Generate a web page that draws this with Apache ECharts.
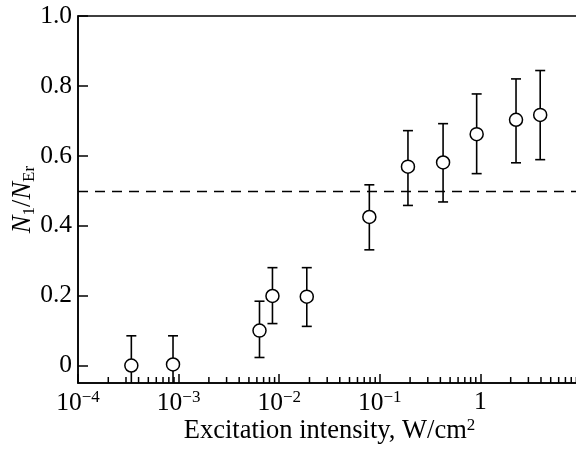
<!DOCTYPE html>
<html>
<head>
<meta charset="utf-8">
<script src="https://cdn.jsdelivr.net/npm/echarts@6/dist/echarts.min.js"></script>
<style>html,body{margin:0;padding:0;background:#fff;}#c{width:576px;height:449px;}</style>
</head>
<body>
<div id="c"></div>
<script>
// Data
const xVals = [3.39e-4, 8.8e-4, 6.37e-3, 8.57e-3, 0.0188, 0.0787, 0.1905, 0.4256, 0.918, 2.26, 3.93];
const yVals = [0, 0.003, 0.100, 0.199, 0.197, 0.425, 0.569, 0.581, 0.662, 0.703, 0.717];
const yHi   = [0.085, 0.085, 0.184, 0.280, 0.280, 0.517, 0.672, 0.692, 0.777, 0.820, 0.844];
const yLo   = [-0.085, -0.079, 0.023, 0.120, 0.112, 0.331, 0.458, 0.468, 0.549, 0.580, 0.589];
const dashedLevel = 0.503;
const yTicks = [0, 0.2, 0.4, 0.6, 0.8, 1.0];
const decades = [-4, -3, -2, -1, 0];
const minorMultipliers = [2, 3, 4, 5, 6, 7, 8, 9];

const minorTicks = [];
decades.forEach(d => minorMultipliers.forEach(m => minorTicks.push([m * Math.pow(10, d)])));

const FONT = "'Liberation Serif', 'Times New Roman', serif";
const FS = 25.5;
const NFS = 26.5;
const SFS = 17;
const chart = echarts.init(document.getElementById('c'), null, {renderer: 'canvas'});

chart.setOption({
  animation: false,
  backgroundColor: '#fff',
  textStyle: {fontFamily: FONT, color: '#000'},
  grid: {left: 78, top: 16, width: 503, height: 367, outerBoundsMode: 'none', containLabel: false,
         show: true, borderColor: '#000', borderWidth: 1.5, backgroundColor: 'transparent'},
  xAxis: {
    type: 'log', logBase: 10, min: 1e-4, max: 10,
    position: 'bottom',
    axisLine: {onZero: false, lineStyle: {color: '#000', width: 1.5}},
    axisTick: {inside: true, length: 9, lineStyle: {color: '#000', width: 1.5}},
    splitLine: {show: false},
    axisLabel: {
      showMaxLabel: false,
      margin: 6,
      color: '#000',
      fontFamily: FONT,
      fontSize: FS,
      formatter: function (v) {
        const e = Math.round(Math.log10(v));
        if (e === 0) return '{b|1}';
        return '{b|10}{s|\u2212' + Math.abs(e) + '}';
      },
      rich: {
        b: {fontSize: FS, fontFamily: FONT, color: '#000'},
        s: {fontSize: SFS, fontFamily: FONT, color: '#000', verticalAlign: 'bottom', padding: [0, 0, 11, 0]}
      }
    },
    name: '{t|Excitation intensity, W/cm}{s|2}',
    nameLocation: 'middle',
    nameMoveOverlap: false,
    nameGap: 34,
    nameTextStyle: {
      rich: {
        t: {fontSize: NFS, fontFamily: FONT, color: '#000'},
        s: {fontSize: SFS, fontFamily: FONT, color: '#000', verticalAlign: 'bottom', padding: [0, 0, 11, 0]}
      }
    }
  },
  yAxis: {
    type: 'value', min: -0.05, max: 1.0,
    axisLine: {onZero: false, lineStyle: {color: '#000', width: 1.5}},
    axisTick: {inside: true, length: 10, customValues: yTicks, lineStyle: {color: '#000', width: 1.5}},
    splitLine: {show: false},
    axisLabel: {
      customValues: yTicks,
      margin: 6,
      color: '#000',
      fontFamily: FONT,
      fontSize: FS,
      formatter: v => (Math.abs(v) < 1e-9 ? '0' : v.toFixed(1))
    },
    name: '{i|N}{sb|1}{n|/}{i|N}{sb|Er}',
    nameLocation: 'middle',
    nameMoveOverlap: false,
    nameGap: 40,
    nameRotate: 90,
    nameTextStyle: {
      rich: {
        i: {fontSize: NFS, fontFamily: FONT, fontStyle: 'italic', color: '#000'},
        n: {fontSize: NFS, fontFamily: FONT, color: '#000'},
        sb: {fontSize: SFS, fontFamily: FONT, color: '#000', verticalAlign: 'top', padding: [12, 0, 0, 0]}
      }
    }
  },
  series: [
    {
      type: 'custom',
      clip: true,
      silent: true,
      z: 2,
      data: minorTicks,
      renderItem: function (params, api) {
        const p = api.coord([api.value(0), -0.05]);
        return {type: 'line', shape: {x1: p[0], y1: p[1], x2: p[0], y2: p[1] - 6}, style: {stroke: '#000', lineWidth: 1.5}};
      }
    },
    {
      type: 'custom',
      clip: true,
      silent: true,
      z: 3,
      data: xVals.map((x, i) => [x, yLo[i], yHi[i]]),
      renderItem: function (params, api) {
        const x = api.value(0);
        const pLo = api.coord([x, api.value(1)]);
        const pHi = api.coord([x, api.value(2)]);
        const w = 5;
        const st = {stroke: '#000', lineWidth: 1.6};
        return {type: 'group', children: [
          {type: 'line', shape: {x1: pHi[0], y1: pHi[1], x2: pLo[0], y2: pLo[1]}, style: st},
          {type: 'line', shape: {x1: pHi[0] - w, y1: pHi[1], x2: pHi[0] + w, y2: pHi[1]}, style: st},
          {type: 'line', shape: {x1: pLo[0] - w, y1: pLo[1], x2: pLo[0] + w, y2: pLo[1]}, style: st}
        ]};
      }
    },
    {
      type: 'scatter',
      z: 5,
      symbol: 'circle',
      symbolSize: 13,
      itemStyle: {color: '#fff', borderColor: '#000', borderWidth: 1.5, opacity: 1},
      data: xVals.map((x, i) => [x, yVals[i]]),
      markLine: {
        silent: true,
        symbol: 'none',
        label: {show: false},
        lineStyle: {color: '#000', type: [10, 7], width: 1.3},
        data: [{yAxis: dashedLevel}]
      }
    }
  ]
});
</script>
</body>
</html>
